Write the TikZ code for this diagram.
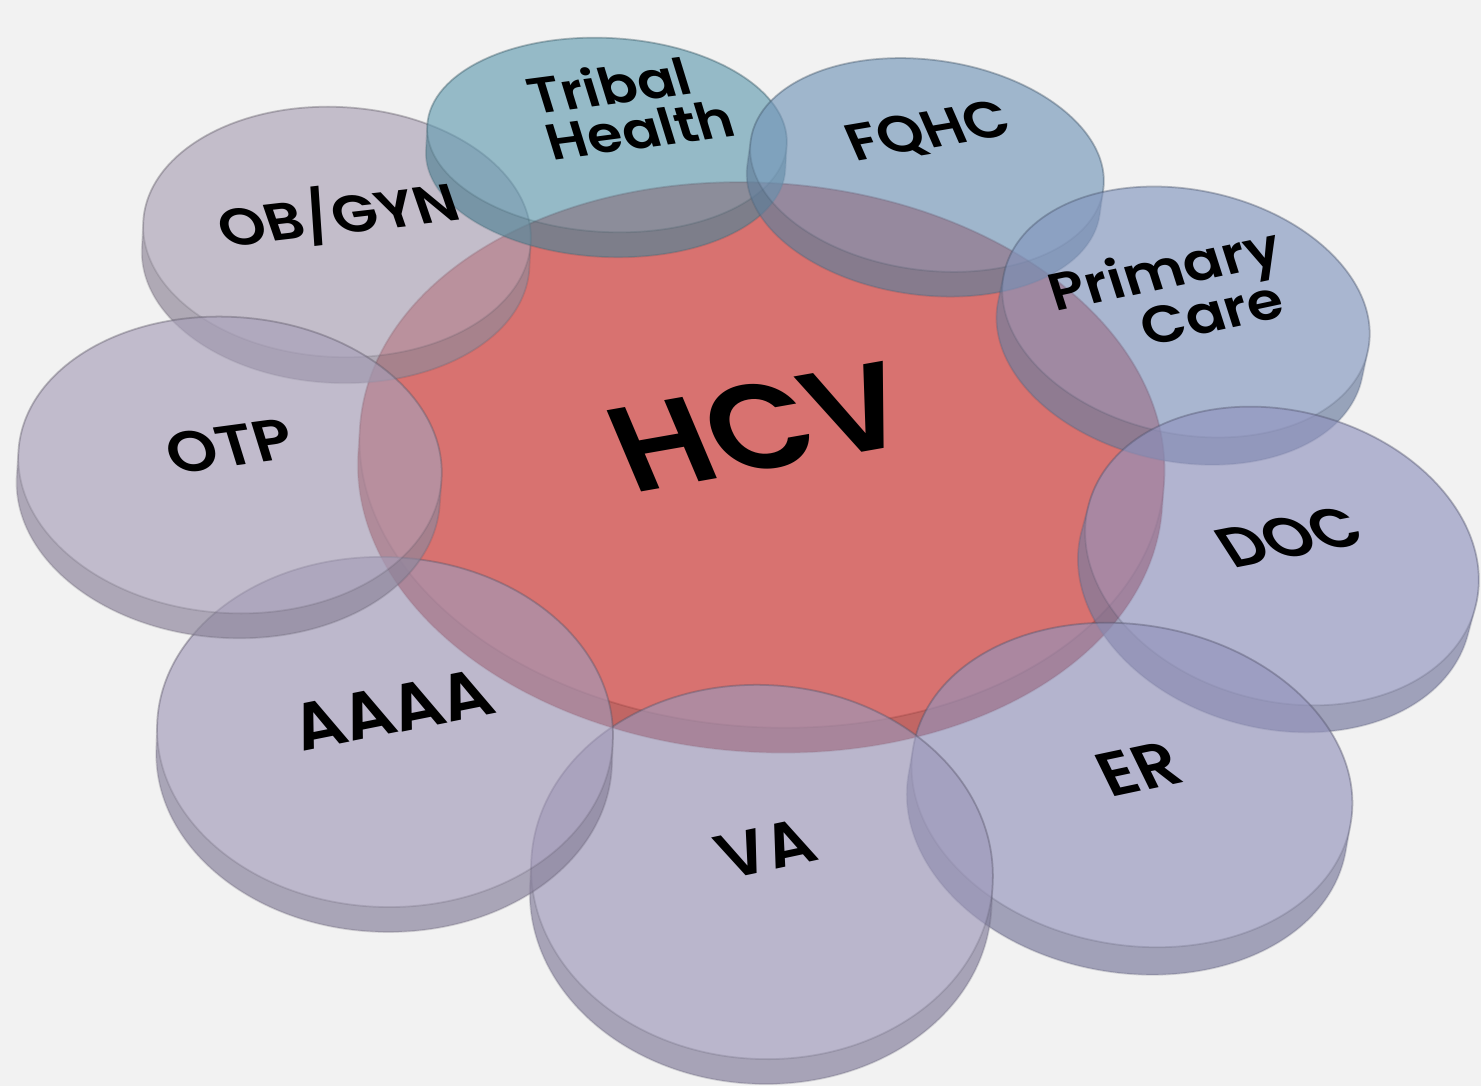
\documentclass[tikz,border=0pt]{standalone}
\usepackage{fontspec}
\setmainfont{Poppins}[UprightFont={* SemiBold}]
\definecolor{bg}{RGB}{242,242,242}
\definecolor{cRed}{RGB}{208,72,69}
\definecolor{cTribal}{RGB}{100,156,177}
\definecolor{cFQHC}{RGB}{116,150,184}
\definecolor{cPrim}{RGB}{131,150,190}
\definecolor{cDOC}{RGB}{144,147,190}
\definecolor{cER}{RGB}{147,147,187}
\definecolor{cVA}{RGB}{156,151,185}
\definecolor{cAAAA}{RGB}{162,153,184}
\definecolor{cOTP}{RGB}{167,159,184}
\definecolor{cOB}{RGB}{171,162,182}
\tikzset{
  lab/.style={text=black, inner sep=0pt, align=center},
}
% #1 cx, #2 cy, #3 rx, #4 ry, #5 thickness, #6 rotation, #7 colour, #8 opacity
\newcommand{\pdisk}[8]{%
  \begin{scope}[shift={(#1,#2)}, rotate=#6]
    \fill[#7, fill opacity=#8]
      (-#3,0) arc[start angle=180,end angle=360,x radius=#3,y radius=#4]
      -- (#3,#5) arc[start angle=0,end angle=180,x radius=#3,y radius=#4] -- cycle;
    \fill[black, fill opacity=0.10, even odd rule]
      (-#3,0) arc[start angle=180,end angle=360,x radius=#3,y radius=#4]
      -- (#3,#5) arc[start angle=0,end angle=180,x radius=#3,y radius=#4] -- cycle
      (0,0) ellipse[x radius=#3, y radius=#4];
    \draw[#7!55!black, draw opacity=0.20, line width=0.5pt]
      (0,0) ellipse[x radius=#3, y radius=#4];
    \draw[#7!55!black, draw opacity=0.22, line width=0.5pt]
      (-#3,0) arc[start angle=180,end angle=360,x radius=#3,y radius=#4]
      -- (#3,#5) arc[start angle=0,end angle=180,x radius=#3,y radius=#4] -- cycle;
  \end{scope}}
\begin{document}
\begin{tikzpicture}[x=0.01cm, y=-0.01cm]
  \useasboundingbox (0,0) rectangle (1481,1086);
  \fill[bg] (0,0) rectangle (1481,1086);

  % central disk
  \pdisk{762}{455}{403}{272}{25}{-4}{cRed}{0.75}

  % satellite disks
  \pdisk{337}{232}{194}{125}{26}{-3}{cOB}{0.65}
  \pdisk{607}{135}{180}{97}{25}{-3}{cTribal}{0.65}
  \pdisk{927}{165}{178}{105}{25}{-8}{cFQHC}{0.65}
  \pdisk{1186}{312}{186}{122}{28}{-12}{cPrim}{0.65}
  \pdisk{1282}{556}{200}{145}{28}{-15}{cDOC}{0.65}
  \pdisk{1132}{785}{222}{160}{28}{-10}{cER}{0.65}
  \pdisk{762}{872}{231}{187}{25}{-3}{cVA}{0.65}
  \pdisk{385}{732}{228}{175}{25}{-2}{cAAAA}{0.65}
  \pdisk{230}{465}{212}{148}{25}{-4}{cOTP}{0.65}

  % labels
  \node[lab, rotate=10, xslant=-0.23, xscale=1.08, font=\fontsize{35}{35}\selectfont] (hcv) at (759,427) {HCV};
  \node[lab, rotate=7.5, xslant=-0.17, xscale=1.1, font=\fontsize{14.5}{13.5}\selectfont] (tribal) at (616,108) {Tribal\\\hspace*{0.6em}Health};
  \node[lab, rotate=9.6, xslant=-0.25, xscale=1.1, font=\fontsize{15}{15}\selectfont] (fqhc) at (929,133) {FQHC};
  \node[lab, rotate=12, xslant=-0.1, xscale=1.1, font=\fontsize{15}{15}\selectfont] (prim) at (1172,293) {Primary\\\hspace*{1.1em}Care};
  \node[lab, rotate=6.6, xslant=-0.22, xscale=1.12, font=\fontsize{15}{15}\selectfont] (obgyn) at (338,214) {OB/GYN};
  \node[lab, rotate=7.6, xslant=-0.17, xscale=1.1, font=\fontsize{16.5}{16.5}\selectfont] (otp) at (230,446) {OTP};
  \node[lab, rotate=11.3, xslant=-0.18, xscale=1.05, font=\fontsize{19}{19}\selectfont] (aaaa) at (392,710) {AAAA};
  \node[lab, rotate=12, xslant=-0.2, xscale=1.05, font=\fontsize{18}{18}\selectfont] (va) at (766,849) {VA};
  \node[lab, rotate=12, xslant=-0.25, xscale=1.05, font=\fontsize{18}{18}\selectfont] (er) at (1139,769) {ER};
  \node[lab, rotate=11, xslant=-0.4, xscale=1.05, font=\fontsize{16.5}{16.5}\selectfont] (doc) at (1290,537) {DOC};
\end{tikzpicture}
\end{document}
